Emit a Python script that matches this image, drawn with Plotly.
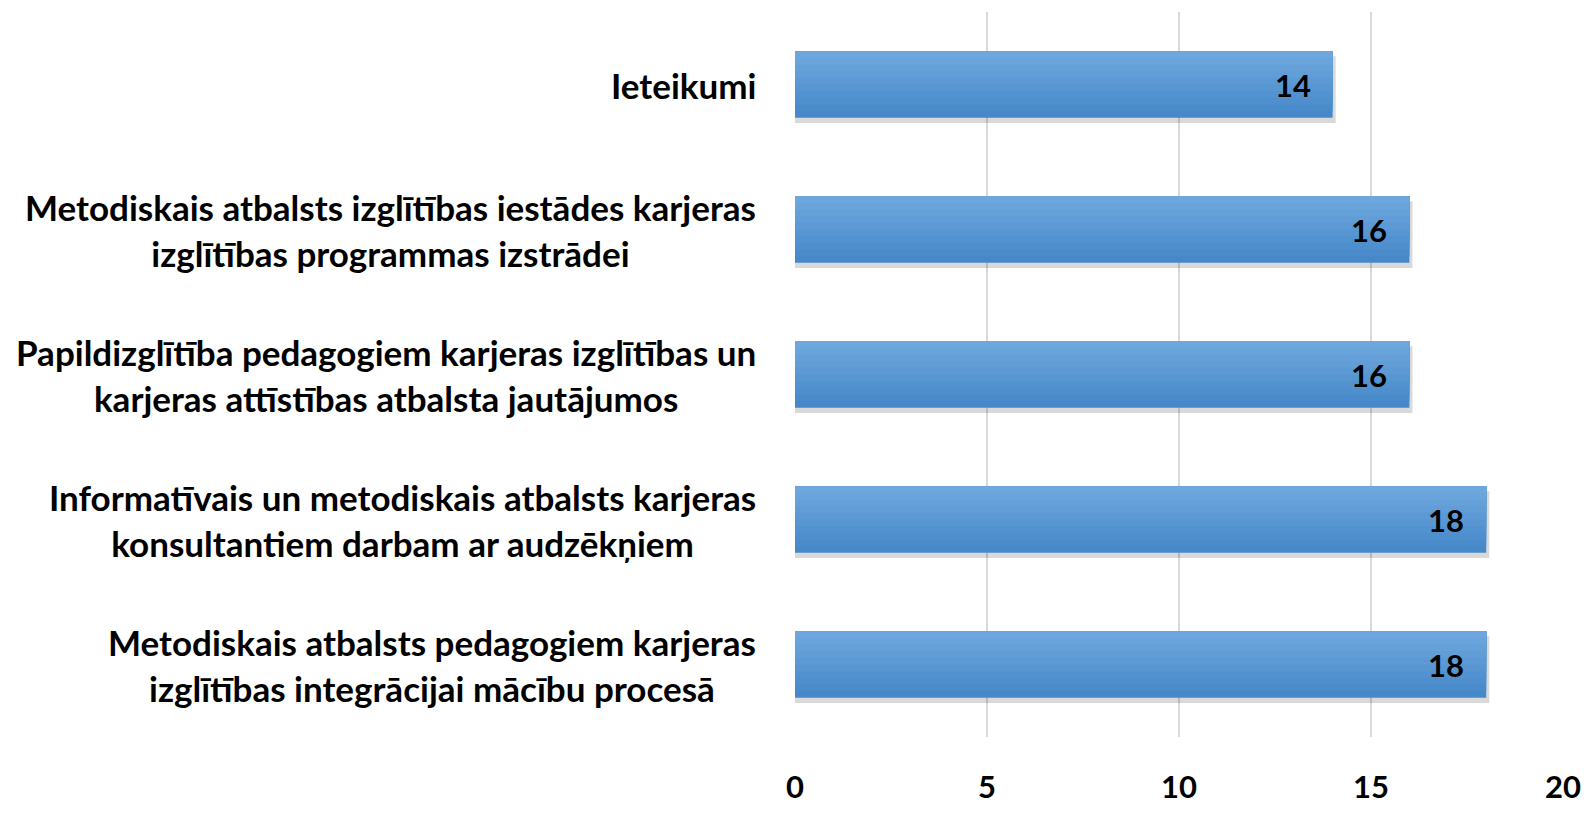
import plotly.graph_objects as go

categories = [
    "Ieteikumi",
    "Metodiskais atbalsts izglītības iestādes karjeras<br>izglītības programmas izstrādei",
    "Papildizglītība pedagogiem karjeras izglītības un<br>karjeras attīstības atbalsta jautājumos",
    "Informatīvais un metodiskais atbalsts karjeras<br>konsultantiem darbam ar audzēkņiem",
    "Metodiskais atbalsts pedagogiem karjeras<br>izglītības integrācijai mācību procesā",
]
values = [14, 16, 16, 18, 18]
x_ticks = [0, 5, 10, 15, 20]

FONT = "Lato"
BAR_W = 0.46
TOP_RGB = (110, 167, 222)
BOT_RGB = (70, 136, 201)
N_BANDS = 10

fig = go.Figure()
# soft shadow
fig.add_trace(go.Bar(
    y=categories, x=[v + 0.08 for v in values], orientation="h",
    width=BAR_W, offset=-BAR_W / 2 + 0.035,
    marker=dict(color="rgba(0,0,0,0.15)", line=dict(width=0)),
    hoverinfo="skip", showlegend=False,
))
# vertical gradient emulated by top-aligned overlay bands (axis reversed: offset -W/2 = top edge)
for i in range(N_BANDS):
    frac = 1 - i / N_BANDS  # band height fraction
    t = i / (N_BANDS - 1)
    col = tuple(round(BOT_RGB[k] + (TOP_RGB[k] - BOT_RGB[k]) * t) for k in range(3))
    fig.add_trace(go.Bar(
        y=categories, x=values, orientation="h",
        width=BAR_W * frac, offset=-BAR_W / 2,
        marker=dict(color="rgb(%d,%d,%d)" % col, line=dict(width=0)),
        hoverinfo="skip" if i else None, showlegend=False,
    ))

annotations = []
for c, v in zip(categories, values):
    annotations.append(dict(
        x=v, y=c, xref="x", yref="y", text=str(v), showarrow=False,
        xanchor="right", xshift=-20,
        font=dict(family=FONT, size=31, color="#000000", weight="bold"),
    ))
    annotations.append(dict(
        x=0, y=c, xref="paper", yref="y", text=c, showarrow=False,
        xanchor="right", align="center", xshift=-37,
        font=dict(family=FONT, size=35, color="#000000", weight="bold"),
    ))

fig.update_layout(
    width=1579, height=809,
    margin=dict(l=787, r=24, t=4, b=80),
    paper_bgcolor="white", plot_bgcolor="white",
    barmode="overlay",
    annotations=annotations,
    xaxis=dict(
        range=[0, 20], tickvals=x_ticks, ticktext=[str(t) for t in x_ticks],
        showgrid=True, gridcolor="#d9d9d9", gridwidth=1.5,
        zeroline=False, showline=False, ticks="",
        ticklabelstandoff=29,
        tickfont=dict(family=FONT, size=31, color="#000000", weight="bold"),
    ),
    yaxis=dict(
        autorange="reversed", showticklabels=False, showgrid=False,
        zeroline=False, ticks="", showline=False,
    ),
)

fig.write_html("out.html")
